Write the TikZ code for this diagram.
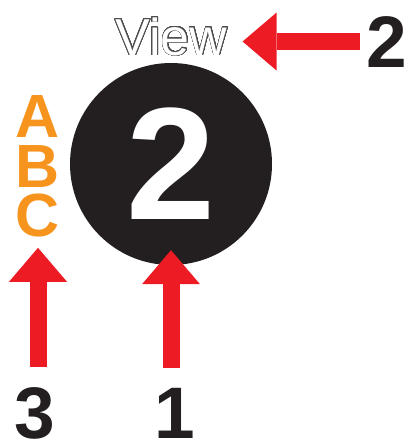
\documentclass[tikz,border=0pt]{standalone}
\usepackage{fontspec}
\setmainfont{Liberation Sans}
\usepackage{contour}
\contourlength{0.7pt}
\contournumber{40}
\usepackage{tikz}
\usetikzlibrary{arrows.meta, positioning}

\definecolor{arrowred}{HTML}{ED1C24}
\definecolor{letterorange}{HTML}{F7941D}
\definecolor{discblack}{HTML}{231F20}
\definecolor{outlinegray}{HTML}{4D4D4D}

\tikzset{
  redarrow/.style={draw=arrowred, line width=17pt,
    -{Triangle[length=34pt,width=58pt,line width=0pt]}},
  numlabel/.style={inner sep=0pt, anchor=base, text=discblack,
    font=\fontsize{73}{73}\bfseries\selectfont},
  abcletter/.style={inner sep=0pt, anchor=base, text=letterorange,
    font=\fontsize{61}{61}\bfseries\selectfont},
}

\begin{document}
\begin{tikzpicture}[x=1pt, y=-1pt]

% Canvas
\useasboundingbox (0,0) rectangle (408,439);

% Black disc with the big white 2
\node[circle, fill=discblack, minimum size=202pt, inner sep=0pt, text=white,
  font=\fontsize{160}{160}\bfseries\selectfont] (disc) at (171,164) {2};

% Outlined caption above the disc
\node[inner sep=0pt, anchor=base, font=\fontsize{52}{52}\selectfont] (view) at (171.5,55)
  {\contour{outlinegray}{\color{white}View}};

% Orange letters on the left
\node[abcletter] (lettA) at (37.5,137) {A};
\node[abcletter] (lettB) at (37.5,187) {B};
\node[abcletter] (lettC) at (37.5,236) {C};

% Numbers
\node[numlabel] (numtwo) at (386.5,67) {2};
\node[numlabel] (numone) at (175,438) {1};
\node[numlabel] (numthree) at (35,438) {3};

% Arrows
\draw[redarrow, shorten <=6pt, shorten >=15pt] (numtwo.west) -- (numtwo.west -| view.east);
\draw[redarrow, shorten <=20pt, shorten >=-15pt] (disc.south |- numone.north) -- (disc.south);
\draw[redarrow, shorten <=20pt, shorten >=11pt]
  ([xshift=3pt]numthree.north) -- ([xshift=3pt]numthree.north |- lettC.south);

\end{tikzpicture}
\end{document}
